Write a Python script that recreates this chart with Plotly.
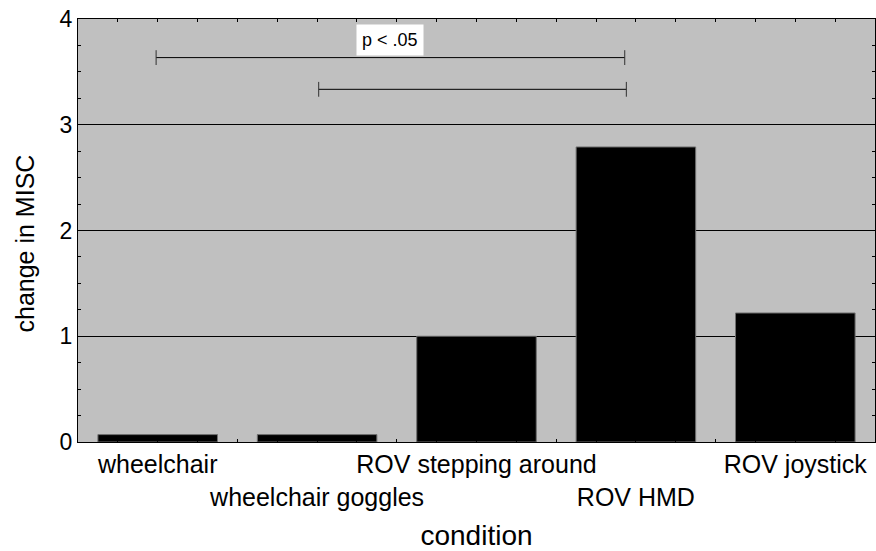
import plotly.graph_objects as go

categories = ["wheelchair", "wheelchair goggles", "ROV stepping around", "ROV HMD", "ROV joystick"]
values = [0.07, 0.07, 1.0, 2.79, 1.22]
label_row = [0, 1, 0, 1, 0]  # staggered tick label rows
y_ticks = [0, 1, 2, 3, 4]

# significance brackets: (x_start, x_end, y)
brackets = [(-0.01, 2.93, 3.635), (1.01, 2.94, 3.335)]
sig_label = "p < .05"
x_title = "condition"
y_title = "change in MISC"

xpos = list(range(len(categories)))
ticktext = [("<br>" if r else "") + c for c, r in zip(categories, label_row)]

FONT = "Liberation Sans, Arial, sans-serif"

fig = go.Figure()
fig.add_trace(go.Bar(
    x=xpos, y=values, width=0.75,
    marker=dict(color="black", line=dict(color="#707070", width=1)),
    showlegend=False, hoverinfo="skip",
))

shapes = []
cap = 0.07
for x0, x1, y in brackets:
    shapes.append(dict(type="line", xref="x", yref="y", x0=x0, x1=x1, y0=y, y1=y,
                       line=dict(color="black", width=1)))
    for xx in (x0, x1):
        shapes.append(dict(type="line", xref="x", yref="y", x0=xx, x1=xx, y0=y - cap, y1=y + cap,
                           line=dict(color="#303030", width=1)))

fig.update_layout(
    width=876, height=551,
    margin=dict(l=78, r=1, t=19, b=109),
    paper_bgcolor="white", plot_bgcolor="#c0c0c0",
    font=dict(family=FONT, color="black"),
    bargap=0.25,
    shapes=shapes,
    annotations=[
        dict(x=1.46, y=3.8, xref="x", yref="y", text=sig_label, showarrow=False,
             font=dict(size=18, family=FONT, color="black"), bgcolor="white", borderpad=5),
        dict(x=0, y=0.5, xref="paper", yref="paper", text=y_title, showarrow=False,
             textangle=-90, xanchor="center", yanchor="middle", xshift=-54, yshift=-13,
             font=dict(size=25, family=FONT, color="black")),
    ],
)

fig.update_xaxes(
    range=[-0.5, 4.5], tickmode="array", tickvals=xpos, ticktext=ticktext, tickangle=0,
    automargin=False,
    tickfont=dict(size=25, family=FONT), ticks="inside", ticklen=3, tickcolor="black",
    showline=True, linecolor="black", linewidth=1, mirror="ticks", showgrid=False, zeroline=False,
    minor=dict(ticks="inside", ticklen=3, tickcolor="black", tick0=-0.5, dtick=0.25, showgrid=False),
    title=dict(text=x_title, font=dict(size=28, family=FONT), standoff=16),
)
fig.update_yaxes(
    range=[0, 4], tickmode="array", tickvals=y_ticks, tickfont=dict(size=23, family=FONT),
    automargin=False,
    ticks="inside", ticklen=3, tickcolor="black",
    showline=True, linecolor="black", linewidth=1, mirror="ticks",
    showgrid=True, gridcolor="black", gridwidth=1, zeroline=False,
    minor=dict(ticks="inside", ticklen=3, tickcolor="black", tick0=0, dtick=0.25, showgrid=False),
)

fig.write_html("out.html", config={"displayModeBar": False},
               post_script="document.body.style.margin='0';")
